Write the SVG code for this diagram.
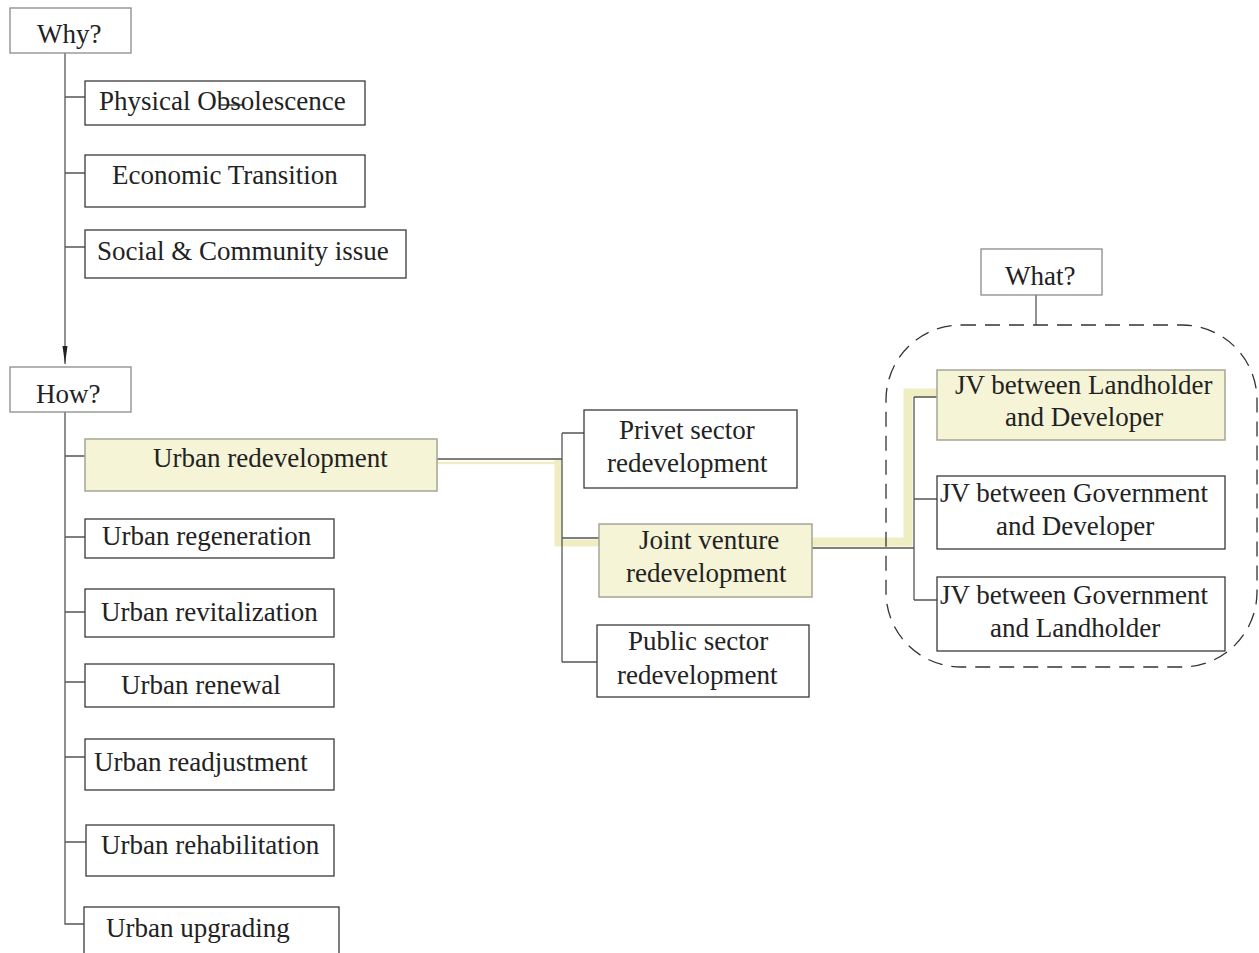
<svg xmlns="http://www.w3.org/2000/svg" width="1259" height="953" viewBox="0 0 1259 953">
  <style>
    text { font-family: "Liberation Serif", "Times New Roman", serif; font-size: 27px; fill: #222; }
    .q { fill: #fff; stroke: #8a8a8a; stroke-width: 1.3; }
    .b { fill: #fff; stroke: #3a3a3a; stroke-width: 1.3; }
    .y { fill: #f5f4d7; stroke: #a5a595; stroke-width: 1.5; }
    .ln { fill: none; stroke: #555; stroke-width: 1.3; }
    .hl { fill: none; stroke: #efeec2; stroke-linejoin: miter; }
    .dash { fill: none; stroke: #333; stroke-width: 1.3; stroke-dasharray: 15 9; }
  </style>
  <defs>
    <marker id="arrow" markerUnits="userSpaceOnUse" markerWidth="20" markerHeight="8" refX="18" refY="4" orient="auto" viewBox="0 0 20 8">
      <path d="M0 1.5 L18 4 L0 6.5 Z" fill="#222"/>
    </marker>
  </defs>

  <!-- highlighted path -->
  <g id="highlight">
    <path class="hl" d="M437 463 H556" stroke-width="2.5"/>
    <path class="hl" d="M558 459 V543 H599" stroke-width="7"/>
    <path class="hl" d="M812 542 H908 V393 H937" stroke-width="9"/>
  </g>

  <!-- connectors -->
  <g id="connectors">
    <path class="ln" d="M65 53 V364" marker-end="url(#arrow)"/>
    <path class="ln" d="M65 97 H85 M65 173 H85 M65 247 H85"/>
    <path class="ln" d="M65 412 V924 H84"/>
    <path class="ln" d="M65 456 H85 M65 537 H85 M65 612 H85 M65 682 H85 M65 757 H85 M65 842 H86"/>
    <path class="ln" d="M437 459 H562 M562 433 V662 M562 433 H584 M562 538 H599 M562 662 H597"/>
    <path class="ln" d="M812 548 H914 M914 397 V600 M914 397 H937 M914 499 H937 M914 600 H937"/>
    <path class="ln" d="M1036 295 V325"/>
  </g>

  <!-- dashed group outline -->
  <rect id="what-group" class="dash" x="886" y="325" width="371" height="342" rx="75" ry="75"/>

  <g id="why">
    <rect class="q" x="10" y="8" width="121" height="45"/>
    <text x="37" y="43">Why?</text>
  </g>
  <g id="physical">
    <rect class="b" x="85" y="81" width="280" height="44"/>
    <text x="99" y="110">Physical Obsolescence</text>
    <path d="M221 105 H244" stroke="#222" stroke-width="1.3"/>
  </g>
  <g id="economic">
    <rect class="b" x="85" y="155" width="280" height="52"/>
    <text x="112" y="184">Economic Transition</text>
  </g>
  <g id="social">
    <rect class="b" x="85" y="230" width="321" height="48"/>
    <text x="97" y="260">Social &amp; Community issue</text>
  </g>

  <g id="how">
    <rect class="q" x="10" y="367" width="121" height="45"/>
    <text x="36" y="403">How?</text>
  </g>
  <g id="redevelopment">
    <rect class="y" x="85" y="439" width="352" height="52"/>
    <text x="153" y="467">Urban redevelopment</text>
  </g>
  <g id="regeneration">
    <rect class="b" x="85" y="519" width="249" height="39"/>
    <text x="102" y="545">Urban regeneration</text>
  </g>
  <g id="revitalization">
    <rect class="b" x="85" y="589" width="249" height="48"/>
    <text x="101" y="621">Urban revitalization</text>
  </g>
  <g id="renewal">
    <rect class="b" x="85" y="664" width="249" height="43"/>
    <text x="121" y="694">Urban renewal</text>
  </g>
  <g id="readjustment">
    <rect class="b" x="85" y="739" width="249" height="51"/>
    <text x="94" y="771">Urban readjustment</text>
  </g>
  <g id="rehabilitation">
    <rect class="b" x="86" y="825" width="248" height="51"/>
    <text x="101" y="854">Urban rehabilitation</text>
  </g>
  <g id="upgrading">
    <rect class="b" x="84" y="907" width="255" height="60"/>
    <text x="106" y="937">Urban upgrading</text>
  </g>

  <g id="privet">
    <rect class="b" x="584" y="410" width="213" height="78"/>
    <text x="619" y="439">Privet sector</text>
    <text x="607" y="472">redevelopment</text>
  </g>
  <g id="joint-venture">
    <rect class="y" x="599" y="524" width="213" height="73"/>
    <text x="639" y="549">Joint venture</text>
    <text x="626" y="582">redevelopment</text>
  </g>
  <g id="public">
    <rect class="b" x="597" y="625" width="212" height="72"/>
    <text x="628" y="650">Public sector</text>
    <text x="617" y="684">redevelopment</text>
  </g>

  <g id="what">
    <rect class="q" x="981" y="249" width="121" height="46"/>
    <text x="1005" y="285">What?</text>
  </g>
  <g id="jv-landholder-developer">
    <rect class="y" x="937" y="370" width="288" height="70"/>
    <text x="955" y="394">JV between Landholder</text>
    <text x="1005" y="426">and Developer</text>
  </g>
  <g id="jv-government-developer">
    <rect class="b" x="937" y="476" width="288" height="73"/>
    <text x="940" y="502">JV between Government</text>
    <text x="996" y="535">and Developer</text>
  </g>
  <g id="jv-government-landholder">
    <rect class="b" x="937" y="577" width="288" height="74"/>
    <text x="940" y="604">JV between Government</text>
    <text x="990" y="637">and Landholder</text>
  </g>
</svg>
